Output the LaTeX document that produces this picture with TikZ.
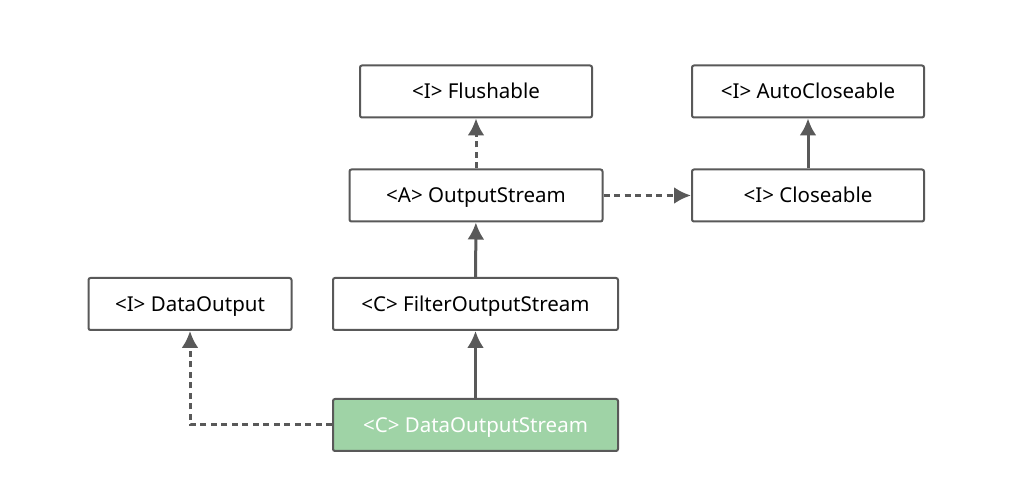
\documentclass[tikz,border=0pt]{standalone}
\usepackage{fontspec}
\setmainfont{Noto Sans}
\usetikzlibrary{arrows.meta}
\definecolor{boxline}{rgb}{0.35,0.35,0.35}
\definecolor{leafgreen}{HTML}{9FD3A6}

\begin{document}
\begin{tikzpicture}[x=1pt, y=-1pt, >={Latex[length=17pt,width=17pt]},
	cls/.style={draw=boxline, line width=2pt, rounded corners=2pt, fill=white,
		minimum height=52pt, inner sep=0pt, text height=16pt, text depth=1.5pt,
		font=\fontsize{20.5}{22}\selectfont},
	impl/.style={->, draw=boxline, line width=3pt, dash pattern=on 6pt off 4.5pt},
	extd/.style={->, draw=boxline, line width=3pt}]

	\useasboundingbox[fill=white] (0,0) rectangle (1021,502);

	\node[cls, minimum width=232pt] (flush) at (476,91.5) {<I> Flushable};
	\node[cls, minimum width=232pt] (autoclose) at (808,91.5) {<I> AutoCloseable};
	\node[cls, minimum width=253pt] (outstream) at (476,195.5) {<A> OutputStream};
	\node[cls, minimum width=232pt] (close) at (808,195.5) {<I> Closeable};
	\node[cls, minimum width=203pt] (dataout) at (190,304) {<I> DataOutput};
	\node[cls, minimum width=285pt] (filterout) at (475.5,304) {<C> FilterOutputStream};
	\node[cls, minimum width=285pt, fill=leafgreen, text=white] (dataoutstream) at (475.5,425) {<C> DataOutputStream};

	\draw[impl] (outstream) -- (flush);
	\draw[impl] (outstream) -- (close);
	\draw[extd] (close) -- (autoclose);
	\draw[extd] (filterout) -- (outstream);
	\draw[extd] (dataoutstream) -- (filterout);
	\draw[impl] (dataoutstream.west) -| (dataout.south);
\end{tikzpicture}
\end{document}
